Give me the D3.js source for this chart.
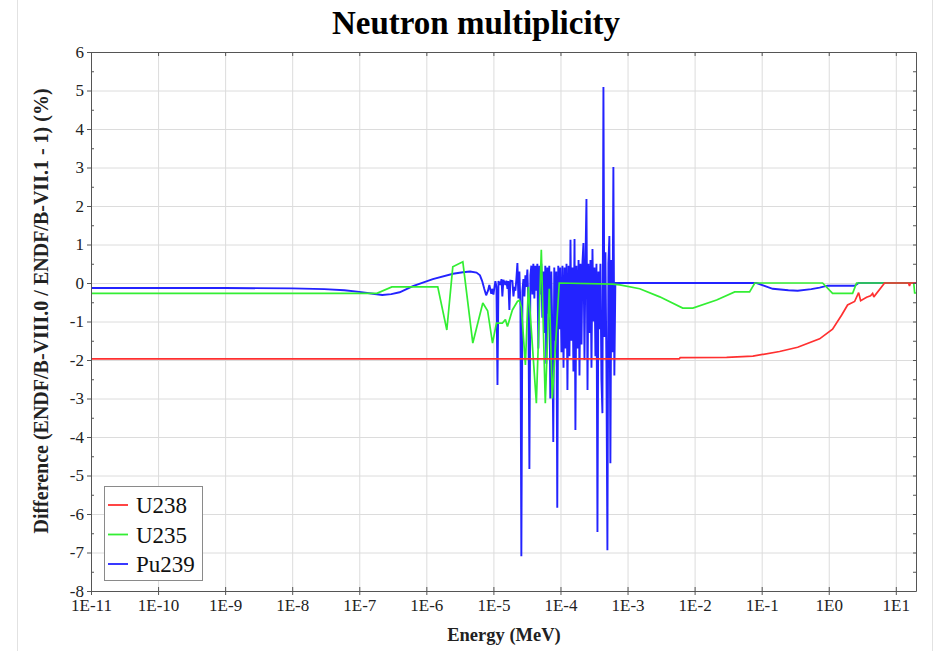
<!DOCTYPE html>
<html>
<head>
<meta charset="utf-8">
<script src="https://cdn.jsdelivr.net/npm/d3@7"></script>
<style>
  html, body { margin: 0; padding: 0; background: #fff; }
  svg { display: block; }
</style>
</head>
<body>
<svg id="chart" width="938" height="651"></svg>
<script>
// ---- data -------------------------------------------------------------
const energyTicks = [1e-11, 1e-10, 1e-9, 1e-8, 1e-7, 1e-6, 1e-5, 1e-4, 1e-3, 1e-2, 1e-1, 1e0, 1e1];
const energyTickLabels = ["1E-11", "1E-10", "1E-9", "1E-8", "1E-7", "1E-6", "1E-5", "1E-4", "1E-3", "1E-2", "1E-1", "1E0", "1E1"];
const diffTicks = [-8, -7, -6, -5, -4, -3, -2, -1, 0, 1, 2, 3, 4, 5, 6];
const diffMinorTicks = [-7.5, -6.5, -5.5, -4.5, -3.5, -2.5, -1.5, -0.5, 0.5, 1.5, 2.5, 3.5, 4.5, 5.5];
const energyDomain = [1e-11, 20];
const diffDomain = [-8, 6];

const seriesNames = ["U238", "U235", "Pu239"];
const seriesColors = ["#ff3030", "#33ee33", "#2323ff"];

// [energy (MeV), difference (%)]
const u238 = [
  [1e-11, -1.97], [5.9e-3, -1.97], [6.1e-3, -1.94], [3e-2, -1.93], [7.4e-2, -1.90],
  [0.185, -1.78], [0.344, -1.67], [0.731, -1.45], [1.14, -1.20], [1.56, -0.83],
  [1.91, -0.57], [2.43, -0.48], [2.79, -0.25], [2.99, -0.46], [3.67, -0.37],
  [4.2, -0.33], [4.51, -0.27], [4.7, -0.36], [6.8, 0.00], [15.5, 0.00],
  [16, -0.08], [16.5, 0.00], [20, 0.00]
];

const u235 = [
  [1e-11, -0.27], [1.83e-7, -0.27], [3.06e-7, -0.10], [1.48e-6, -0.10], [2.02e-6, -1.22],
  [2.48e-6, 0.42], [3.5e-6, 0.55], [4.93e-6, -1.56], [6.95e-6, -0.52], [8.2e-6, -0.72],
  [9.7e-6, -1.56], [1.11e-5, -1.04], [1.36e-5, -1.04], [1.51e-5, -0.95], [1.62e-5, -1.13],
  [1.92e-5, -0.70], [2.28e-5, -0.48], [2.44e-5, -0.45], [2.61e-5, -0.62], [3.00e-5, -2.13],
  [3.32e-5, -0.10], [4.37e-5, -3.12], [5.18e-5, 0.86], [5.94e-5, -3.12], [6.81e-5, -0.15],
  [7.55e-5, -3.00], [9.59e-5, 0.00], [6.0e-4, -0.03], [7.66e-4, -0.05], [1.52e-3, -0.15],
  [3.02e-3, -0.36], [6.65e-3, -0.65], [9.4e-3, -0.65], [2.13e-2, -0.44], [3.96e-2, -0.23],
  [6.6e-2, -0.23], [7.9e-2, 0.00], [0.81, 0.00], [1.14, -0.27], [2.27, -0.27],
  [2.6, 0.00], [18.5, 0.00], [19.1, -0.26], [20, -0.26]
];

const pu239 = [
  [1e-11, -0.13], [1e-9, -0.13], [1e-8, -0.14], [3e-8, -0.16], [6e-8, -0.19],
  [1e-7, -0.23], [1.6e-7, -0.28], [2.2e-7, -0.31], [3e-7, -0.29], [4e-7, -0.24],
  [6.3e-7, -0.08], [1.25e-6, 0.10], [2.5e-6, 0.24], [3.5e-6, 0.28], [4.5e-6, 0.30],
  [5.6e-6, 0.27], [6.3e-6, 0.20], [6.8e-6, 0.05], [7.3e-6, -0.15], [7.8e-6, -0.32],
  [8.3e-6, -0.20], [8.7e-6, -0.05], [9.3e-6, -0.28], [9.7e-6, -0.15], [1.00e-5, -0.30],
  [1.07e-5, 0.05], [1.11e-5, -0.10], [1.15e-5, -2.65], [1.19e-5, 0.05], [1.27e-5, -0.05],
  [1.32e-5, 0.10], [1.36e-5, -0.35], [1.41e-5, 0.08], [1.51e-5, -0.05], [1.56e-5, 0.06],
  [1.62e-5, -0.15], [1.67e-5, 0.05], [1.73e-5, -0.70], [1.79e-5, 0.06], [1.92e-5, 0.05],
  [1.99e-5, -0.35], [2.06e-5, -0.10], [2.13e-5, -0.20], [2.20e-5, 0.10], [2.28e-5, 0.52],
  [2.36e-5, -0.40], [2.44e-5, 0.30], [2.53e-5, -0.60], [2.61e-5, -7.10], [2.71e-5, -0.20],
  [2.80e-5, 0.10], [2.90e-5, -0.35], [3.00e-5, 0.20], [3.10e-5, -0.10], [3.21e-5, 0.35],
  [3.32e-5, -0.50], [3.44e-5, -4.83], [3.56e-5, 0.20], [3.68e-5, 0.45], [3.81e-5, -0.30],
  [3.94e-5, 0.50], [4.08e-5, -0.40], [4.22e-5, 0.45], [4.37e-5, -0.20], [4.52e-5, 0.50],
  [4.68e-5, -1.70], [4.84e-5, 0.45], [5.01e-5, -0.30], [5.18e-5, 0.50], [5.36e-5, -0.90],
  [5.55e-5, 0.30], [5.74e-5, -1.30], [5.94e-5, 0.45], [6.15e-5, -2.10], [6.36e-5, 0.40],
  [6.58e-5, -0.80], [6.81e-5, 0.45], [7.05e-5, -3.00], [7.30e-5, 0.30], [7.55e-5, -1.20],
  [7.81e-5, -4.13], [8.08e-5, 0.40], [8.37e-5, -1.50], [8.66e-5, 0.30], [8.96e-5, -5.84],
  [9.27e-5, 0.45], [9.59e-5, -1.20], [9.93e-5, 0.40], [1.035e-4, -1.80], [1.07e-4, 0.45],
  [1.11e-4, -2.20], [1.15e-4, 0.40], [1.19e-4, -1.70], [1.23e-4, 0.50], [1.27e-4, -2.78],
  [1.32e-4, 0.45], [1.36e-4, -1.90], [1.41e-4, 1.12], [1.46e-4, -1.50], [1.51e-4, 0.40],
  [1.56e-4, -2.30], [1.62e-4, 1.14], [1.67e-4, -3.82], [1.73e-4, 0.45], [1.79e-4, -1.70],
  [1.86e-4, 0.60], [1.92e-4, -2.40], [1.99e-4, 0.50], [2.06e-4, -1.60], [2.13e-4, 0.55],
  [2.20e-4, 1.04], [2.28e-4, -2.00], [2.36e-4, 0.60], [2.44e-4, 2.18], [2.53e-4, -2.78],
  [2.61e-4, 0.50], [2.71e-4, -1.30], [2.80e-4, 0.60], [2.90e-4, -2.20], [3.00e-4, 0.88],
  [3.10e-4, -1.00], [3.21e-4, 0.40], [3.32e-4, -1.90], [3.44e-4, 0.50], [3.56e-4, -6.47],
  [3.68e-4, 0.30], [3.81e-4, -1.20], [3.94e-4, 0.50], [4.08e-4, -2.50], [4.22e-4, -3.38],
  [4.37e-4, 5.09], [4.52e-4, -1.40], [4.68e-4, 0.80], [4.84e-4, -2.10], [5.01e-4, -6.94],
  [5.18e-4, 0.50], [5.36e-4, 1.22], [5.55e-4, -4.68], [5.74e-4, 0.60], [5.94e-4, -1.80],
  [6.15e-4, 3.01], [6.36e-4, -2.40], [6.58e-4, 0.00], [1e-3, 0.00], [1e-2, 0.00],
  [8.4e-2, 0.00], [0.146, -0.15], [0.25, -0.19], [0.344, -0.20], [0.55, -0.16],
  [0.731, -0.12], [0.96, -0.07], [2.43, -0.07], [2.79, 0.00], [20, 0.00]
];

const seriesData = [u238, u235, pu239];

// ---- layout -------------------------------------------------------------
const plot = { left: 91, right: 916, top: 52, bottom: 591 };
const serif = "'Liberation Serif', 'Times New Roman', Times, serif";

const svg = d3.select("#chart");

const x = d3.scaleLog().domain(energyDomain).range([plot.left, plot.right]);
const y = d3.scaleLinear().domain(diffDomain).range([plot.bottom, plot.top]);

// faint page edges
svg.append("line").attr("x1", 17.5).attr("x2", 17.5).attr("y1", 0).attr("y2", 651)
  .attr("stroke", "#e2e2e2");
svg.append("line").attr("x1", 932.5).attr("x2", 932.5).attr("y1", 0).attr("y2", 651)
  .attr("stroke", "#e2e2e2");

// grid
const grid = svg.append("g").attr("class", "grid");
grid.append("g")
  .attr("transform", `translate(0,${plot.bottom})`)
  .call(d3.axisBottom(x).tickValues(energyTicks.slice(1)).tickSize(-(plot.bottom - plot.top)).tickFormat(""))
  .call(g => g.select(".domain").remove());
grid.append("g")
  .attr("transform", `translate(${plot.left},0)`)
  .call(d3.axisLeft(y).tickValues(diffTicks.slice(1, -1)).tickSize(-(plot.right - plot.left)).tickFormat(""))
  .call(g => g.select(".domain").remove());
grid.selectAll("line").attr("stroke", "#dcdcdc").attr("stroke-width", 1);

// series
svg.append("clipPath").attr("id", "plot-clip")
  .append("rect")
  .attr("x", plot.left).attr("y", plot.top)
  .attr("width", plot.right - plot.left).attr("height", plot.bottom - plot.top);

const line = d3.line().x(d => x(d[0])).y(d => y(d[1]));
const seriesG = svg.append("g").attr("clip-path", "url(#plot-clip)");
// Pu239 underneath, U238 on top
[2, 1, 0].forEach(i => {
  seriesG.append("path")
    .datum(seriesData[i])
    .attr("d", line)
    .attr("fill", "none")
    .attr("stroke", seriesColors[i])
    .attr("stroke-width", i === 2 ? 1.9 : 1.7)
    .attr("stroke-linejoin", "miter")
    .attr("stroke-miterlimit", 2);
});

// axes
const axisColor = "#555";
function styleAxis(g) {
  g.select(".domain").attr("stroke", axisColor);
  g.selectAll(".tick line").attr("stroke", axisColor);
  g.selectAll(".tick text")
    .attr("fill", "#222")
    .style("font-family", serif)
    .style("font-size", "17px");
}

// left: labelled majors pointing out, minors pointing in
svg.append("g")
  .attr("transform", `translate(${plot.left},0)`)
  .call(d3.axisLeft(y).tickValues(diffTicks).tickSizeInner(4).tickSizeOuter(0).tickPadding(3)
    .tickFormat(d => String(d)))
  .call(styleAxis);
svg.append("g")
  .attr("transform", `translate(${plot.left},0)`)
  .call(d3.axisRight(y).tickValues(diffMinorTicks).tickSize(3).tickFormat(""))
  .call(g => g.select(".domain").remove())
  .call(styleAxis);

// bottom: labelled decades, ticks crossing the axis line
svg.append("g")
  .attr("transform", `translate(0,${plot.bottom})`)
  .call(d3.axisBottom(x).tickValues(energyTicks).tickSizeInner(4).tickSizeOuter(0).tickPadding(4)
    .tickFormat((d, i) => energyTickLabels[i]))
  .call(styleAxis);
svg.append("g")
  .attr("transform", `translate(0,${plot.bottom})`)
  .call(d3.axisTop(x).tickValues(energyTicks).tickSize(4).tickFormat(""))
  .call(g => g.select(".domain").remove())
  .call(styleAxis);

// top frame
svg.append("g")
  .attr("transform", `translate(0,${plot.top})`)
  .call(d3.axisBottom(x).tickValues(energyTicks).tickSizeInner(4).tickSizeOuter(0).tickFormat(""))
  .call(styleAxis);

// right frame
svg.append("g")
  .attr("transform", `translate(${plot.right},0)`)
  .call(d3.axisLeft(y).tickValues(diffTicks.concat(diffMinorTicks)).tickSizeInner(3).tickSizeOuter(0).tickFormat(""))
  .call(styleAxis);

// titles
svg.append("text")
  .attr("x", 476).attr("y", 34)
  .attr("text-anchor", "middle")
  .style("font-family", serif).style("font-weight", "bold").style("font-size", "33px")
  .attr("fill", "#000")
  .text("Neutron multiplicity");

svg.append("text")
  .attr("x", 504).attr("y", 641)
  .attr("text-anchor", "middle")
  .style("font-family", serif).style("font-weight", "bold").style("font-size", "18.5px")
  .attr("fill", "#222")
  .text("Energy (MeV)");

svg.append("text")
  .attr("transform", "translate(48,311) rotate(-90)")
  .attr("text-anchor", "middle")
  .style("font-family", serif).style("font-weight", "bold").style("font-size", "20px")
  .attr("fill", "#222")
  .text("Difference (ENDF/B-VIII.0 / ENDF/B-VII.1 - 1) (%)");

// legend
const legend = svg.append("g").attr("transform", "translate(104,486)");
legend.append("rect")
  .attr("x", 0.5).attr("y", 0.5).attr("width", 98).attr("height", 94)
  .attr("fill", "#fff").attr("stroke", "#8a8a8a");
seriesNames.forEach((name, i) => {
  const cy = 19 + i * 29.5;
  legend.append("line")
    .attr("x1", 4).attr("x2", 24).attr("y1", cy).attr("y2", cy)
    .attr("stroke", seriesColors[i]).attr("stroke-width", 1.8);
  legend.append("text")
    .attr("x", 32).attr("y", cy + 8)
    .style("font-family", serif).style("font-size", "23px")
    .attr("fill", "#111")
    .text(name);
});
</script>
</body>
</html>
